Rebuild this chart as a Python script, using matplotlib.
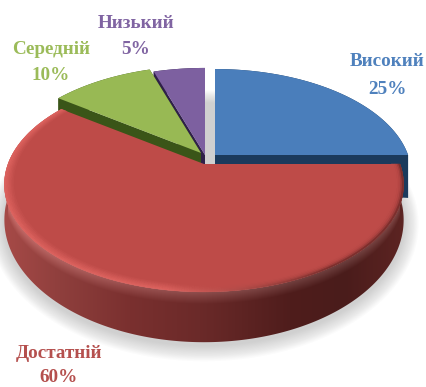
import numpy as np
import matplotlib
matplotlib.use("Agg")
import matplotlib.pyplot as plt
from matplotlib.collections import PolyCollection
from matplotlib.colors import to_rgb
from matplotlib.patches import Polygon

# Survey results, clockwise from twelve o'clock
labels = ["Високий", "Достатній", "Середній", "Низький"]
values = [25, 60, 10, 5]
face_colors = ["#4a7ebb", "#be4b48", "#98b954", "#7d60a0"]
wall_colors = ["#1b3a5c", "#6a2a28", "#3a5518", "#2f2049"]
text_colors = ["#4f81bd", "#b5504e", "#9bbb59", "#8064a2"]

W, H = 426, 387
RX, RY, TILT, DEPTH = 196.0, 103.6, 0.19, 33.0
apexes = {"Високий": (215, 155), "Достатній": (204, 164),
          "Середній": (201, 153), "Низький": (205, 155)}
slice_radius = {"Високий": 0.985, "Достатній": 1.0, "Середній": 1.0, "Низький": 1.0}
wall_drop = {"Високий": 1.3, "Достатній": 1.0, "Середній": 1.0, "Низький": 1.0}
label_pos = {"Високий": (387, 62, 89), "Достатній": (59, 354, 378),
             "Середній": (51, 49, 75), "Низький": (136, 24, 50)}

fig = plt.figure(figsize=(W / 100, H / 100), dpi=100)
ax = fig.add_axes([0, 0, 1, 1])
ax.set_xlim(0, W)
ax.set_ylim(H, 0)
ax.axis("off")


def project(frac, apex, r=1.0, drop=0.0):
    """Perspective view of a point on the disc; frac is the share of a full turn."""
    t = 2 * np.pi * np.asarray(frac, dtype=float)
    u, v = r * np.sin(t), r * np.cos(t)
    d = 1 + TILT * v
    x = apex[0] + RX * u / d
    y = apex[1] - RY * v / d + drop * DEPTH / d ** 2
    return x, y


def mix(a, b, t):
    return tuple((1 - t) * p + t * q for p, q in zip(a, b))


cum = np.cumsum([0] + values) / sum(values)
spans = {name: (cum[i], cum[i + 1]) for i, name in enumerate(labels)}
faces = dict(zip(labels, face_colors))
walls = dict(zip(labels, wall_colors))

# Soft ground shadow under the disc
ring = np.linspace(0, 1, 240)
sx, sy = project(ring, apexes["Достатній"], drop=1.0)
for grow in np.linspace(15, 1, 14):
    cx_, cy_ = sx.mean(), sy.mean()
    gx = cx_ + (sx - cx_) * (1 + grow / 200)
    gy = cy_ + (sy - cy_) * (1 + grow / 125) + 3
    ax.fill(gx, gy, color="#7f7f7f", alpha=0.028, lw=0, zorder=1)


def draw_slice(name, z):
    lo, hi = spans[name]
    apex = apexes[name]
    r = slice_radius[name]
    drop = wall_drop[name]
    arc = np.linspace(lo, hi, 120)
    x0, y0 = project(arc, apex, r=r)
    x1, y1 = project(arc, apex, r=r, drop=drop)
    ax.fill(np.r_[x0, x1[::-1]], np.r_[y0, y1[::-1]], color=walls[name], lw=0, zorder=z)
    for end in (lo, hi):
        ex0, ey0 = project(end, apex, r=r)
        ex1, ey1 = project(end, apex, r=r, drop=drop)
        ax.fill([apex[0], ex0, ex1, apex[0]],
                [apex[1], ey0, ey1, apex[1] + DEPTH],
                color=walls[name], lw=0, zorder=z)
    ax.fill(np.r_[apex[0], x0], np.r_[apex[1], y0], color=faces[name], lw=0, zorder=z + 0.5)


draw_slice("Високий", 2)
draw_slice("Низький", 3)
draw_slice("Середній", 4)

# The large front slice gets a shaded rim and a lit bevel
name = "Достатній"
lo, hi = spans[name]
apex = apexes[name]
arc = np.linspace(lo, hi, 361)
x0, y0 = project(arc, apex)
x1, y1 = project(arc, apex, drop=1.0)

# Rim shading runs left to right and lightens just under the front edge
stops_x = [5, 60, 130, 200, 290, 345, 402]
stops_c = np.array([to_rgb(c) for c in
                    ["#a64a47", "#8f3f3d", "#7a302f", "#6b2a29", "#4f1d1c", "#4a1c1b", "#5c2422"]])
px = np.arange(W) + 0.5
py = np.arange(H) + 0.5
gradient = np.stack([np.interp(px, stops_x, stops_c[:, i]) for i in range(3)], axis=-1)
front = np.linspace(0.25, 0.75, 181)
fx, fy = project(front, apex)
order = np.argsort(fx)
edge_y = np.interp(px, fx[order], fy[order])
below_edge = py[:, None] - edge_y[None, :]
glow = np.clip(1 - below_edge / 12, 0, 1)[..., None] * 0.14
shading = np.clip(gradient[None, :, :] + glow, 0, 1)
side = ax.imshow(shading, extent=(0, W, H, 0), aspect="auto", interpolation="bilinear", zorder=5)
side.set_clip_path(Polygon(np.c_[np.r_[x0, x1[::-1]], np.r_[y0, y1[::-1]]], transform=ax.transData))
ax.set_xlim(0, W)
ax.set_ylim(H, 0)

ax.fill(np.r_[apex[0], x0], np.r_[apex[1], y0], color=faces[name], lw=0, zorder=6)

# Bevel along the rim: bright at the lower left, dark towards the right
face_rgb = to_rgb(faces[name])
lit = to_rgb("#dd635f")
shade = to_rgb("#7a2f2d")
radii = np.linspace(0.955, 1.0, 7)
polys, cols = [], []
for a0, a1 in zip(arc[:-1], arc[1:]):
    xm, _ = project((a0 + a1) / 2, apex)
    across = np.clip((xm - 60) / 300, 0, 1)
    edge = mix(lit, shade, np.clip((across - 0.35) / 0.55, 0, 1))
    # the dark side stays thin; the lit side spreads wider
    power = 1.0 + 3.0 * np.clip((across - 0.35) / 0.55, 0, 1)
    for r0, r1 in zip(radii[:-1], radii[1:]):
        xa0, ya0 = project(a0, apex, r=r0)
        xb0, yb0 = project(a1, apex, r=r0)
        xa1, ya1 = project(a0, apex, r=r1)
        xb1, yb1 = project(a1, apex, r=r1)
        polys.append([(xa0, ya0), (xb0, yb0), (xb1, yb1), (xa1, ya1)])
        cols.append(mix(face_rgb, edge, ((r1 - radii[0]) / (1 - radii[0])) ** power))
ax.add_collection(PolyCollection(polys, facecolors=cols, edgecolors="face", linewidths=0.3, zorder=7))

# Category name over its percentage
for name, value, color in zip(labels, values, text_colors):
    x, y_name, y_value = label_pos[name]
    for text, y in ((name, y_name), (f"{value}%", y_value)):
        ax.text(x, y, text, color=color, ha="center", va="center", fontsize=13.8,
                fontweight="bold", family="Liberation Serif", zorder=10)

fig.savefig("out.png", dpi=100)
